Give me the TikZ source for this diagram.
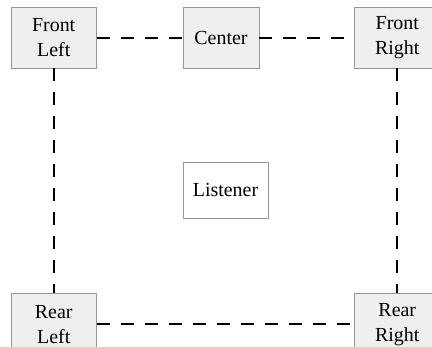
\documentclass[tikz,border=0pt]{standalone}
\usepackage{fontspec}
\setmainfont{Liberation Serif}
\usetikzlibrary{positioning}
\definecolor{boxfill}{RGB}{239,239,239}
\definecolor{boxline}{RGB}{150,150,150}

\begin{document}
\begin{tikzpicture}[% styles for all nodes and edges
				x=1bp,y=-1bp,
				every node/.style={
					align=center,  		% "\\" breaks the speaker names
					font=\fontsize{20}{25}\selectfont,
					inner sep=0pt
				},
				spk/.style={rectangle,draw=boxline,fill=boxfill,line width=0.8bp,minimum width=85bp,minimum height=61bp},
				every edge/.style={draw,line width=2bp,dash pattern=on 13bp off 11bp}
			]
			\useasboundingbox (0,0) rectangle (432,347);
			\node[spk,minimum width=76bp](C) at (221,37.5){Center};
			\node[spk](FL)[left=86bp of C]{Front\\Left};
			\node[spk](FR)[right=95bp of C]{Front\\Right};
			\node[spk](RL)[below=225bp of FL]{Rear\\Left};
			\node[spk](RR)[below=225bp of FR]{Rear\\Right};
			\node[rectangle,draw=boxline,fill=white,line width=0.8bp,minimum width=85bp,minimum height=56bp](L) at (225.5,190){Listener};
			\path
			(FL)edge []	node [] {} (C)
			(C)edge []	node [] {} (FR)
			(FL)edge []	node [] {} (RL)
			(FR)edge []	node [] {} (RR)
			(RL)edge []	node [] {} (RR)
			;
		\end{tikzpicture}
\end{document}
